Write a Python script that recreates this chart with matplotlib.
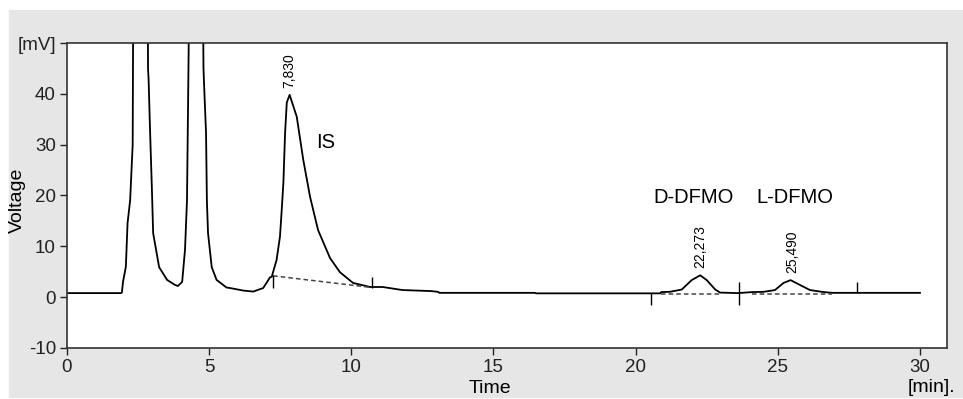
import matplotlib
matplotlib.use("Agg")
import matplotlib.pyplot as plt
from matplotlib.patches import Rectangle

plt.rcParams["font.family"] = ["Liberation Sans", "DejaVu Sans"]

# chromatogram trace (time in min, signal in mV)
trace_t = [0.0, 1.90, 1.93, 1.97, 2.07, 2.13, 2.22, 2.31, 2.33, 2.84, 2.85, 2.87,
           2.92, 2.99, 3.03, 3.24, 3.52, 3.80, 3.90, 4.05, 4.15, 4.22, 4.26, 4.30,
           4.78, 4.80, 4.82, 4.89, 4.92, 4.96, 5.09, 5.26, 5.61, 5.73, 6.20, 6.55,
           6.90, 7.14, 7.20, 7.37, 7.49, 7.55, 7.61, 7.67, 7.73, 7.83, 8.08, 8.31,
           8.55, 8.83, 9.25, 9.60, 10.06, 10.66, 11.10, 11.80, 12.80, 13.05, 13.10,
           16.45, 16.50, 20.86, 20.90, 21.20, 21.62, 21.97, 22.27, 22.50, 22.80,
           22.97, 23.60, 24.10, 24.50, 24.90, 25.20, 25.45, 25.78, 26.13, 26.55,
           26.90, 30.0]
trace_v = [0.8, 0.8, 0.9, 3.0, 6.0, 14.6, 19.0, 30.0, 60.0, 60.0, 45.0, 42.8,
           33.0, 20.5, 12.6, 5.9, 3.4, 2.4, 2.2, 3.0, 9.3, 19.0, 38.9, 60.0,
           60.0, 45.0, 42.0, 32.3, 19.0, 12.6, 5.9, 3.4, 1.9, 1.8, 1.3, 1.1,
           1.8, 3.9, 4.0, 7.3, 11.9, 17.0, 22.5, 32.3, 38.3, 39.8, 35.5, 27.0,
           19.7, 13.2, 7.7, 4.9, 2.8, 2.0, 2.0, 1.4, 1.2, 1.05, 0.85,
           0.85, 0.75, 0.75, 1.0, 1.05, 1.5, 3.35, 4.3, 3.35, 1.5,
           0.9, 0.8, 1.0, 1.05, 1.4, 2.8, 3.35, 2.4, 1.4, 1.05,
           0.85, 0.85]

# integration baselines (dashed)
base_t0 = [7.25, 20.90, 24.10]
base_v0 = [4.2, 0.72, 0.72]
base_t1 = [10.72, 23.00, 26.90]
base_v1 = [1.9, 0.72, 0.72]

# integration markers
mark_t = [7.25, 10.72, 20.53, 23.64, 27.77]
mark_lo = [1.9, 1.8, -1.6, -1.6, 0.8]
mark_hi = [4.4, 3.9, 0.8, 3.0, 3.0]

# retention time labels
peak_t = [7.83, 22.273, 25.49]
peak_v = [39.8, 4.3, 3.35]
peak_lbl = ["7,830", "22,273", "25,490"]

# compound names
name_lbl = ["IS", "D-DFMO", "L-DFMO"]
name_t = [9.11, 22.05, 25.6]
name_v = [30.4, 19.7, 19.7]

x_ticks = [0, 5, 10, 15, 20, 25, 30]
y_ticks = [-10, 0, 10, 20, 30, 40, 50]
y_tick_lbl = ["-10", "0", "10", "20", "30", "40", "[mV]"]

fig = plt.figure(figsize=(9.63, 3.99), dpi=100, facecolor="white")
bg = Rectangle((9 / 963, 2 / 399), 1, (399 - 12) / 399,
               transform=fig.transFigure, color="#e6e6e6", zorder=-10)
fig.add_artist(bg)
ax = fig.add_axes([67 / 963, 1 - 348 / 399, (947 - 67) / 963, (348 - 43) / 399])
ax.set_zorder(5)
ax.set_facecolor("white")

ax.plot(trace_t, trace_v, color="black", lw=1.3)
for t0, v0, t1, v1 in zip(base_t0, base_v0, base_t1, base_v1):
    ax.plot([t0, t1], [v0, v1], color="#444444", lw=1.1, ls=(0, (3, 2)))
ax.vlines(mark_t, mark_lo, mark_hi, color="black", lw=1.0)

for t, v, s in zip(peak_t, peak_v, peak_lbl):
    ax.annotate(s, (t, v), xytext=(0, 5), textcoords="offset points",
                rotation=90, ha="center", va="bottom", fontsize=10)
for t, v, s in zip(name_t, name_v, name_lbl):
    ax.text(t, v, s, ha="center", va="center", fontsize=14.5)

ax.set_xlim(0, 30.95)
ax.set_ylim(-10, 50)
ax.set_xticks(x_ticks)
ax.set_yticks(y_ticks)
ax.set_yticklabels(y_tick_lbl)
ax.tick_params(direction="out", length=5, width=1.0, labelsize=13.5, pad=3,
               colors="#222222")
for sp in ax.spines.values():
    sp.set_color("#333333")
    sp.set_linewidth(1.2)

fig.text(17 / 963, 1 - 200 / 399, "Voltage", rotation=90, ha="center", va="center",
         fontsize=14, zorder=6)
fig.text(490 / 963, 1 - 393 / 399, "Time", ha="center", va="baseline", fontsize=14,
         zorder=6)
fig.text(955 / 963, 1 - 387 / 399, "[min].", ha="right", va="center", fontsize=14,
         zorder=6)

fig.savefig("out.png", dpi=100)
